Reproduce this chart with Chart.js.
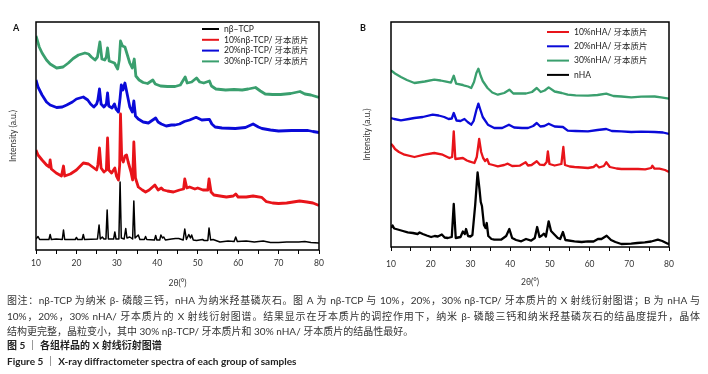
<!DOCTYPE html>
<html>
<head>
<meta charset="utf-8">
<script src="https://cdn.jsdelivr.net/npm/chart.js@4.4.0/dist/chart.umd.min.js"></script>
<style>
  body { margin: 0; width: 708px; height: 374px; background: #fff; position: relative; overflow: hidden; font-family: Lato, "Noto Sans CJK SC", sans-serif; }
  canvas.panel { position: absolute; top: 0; }
  .tag { position: absolute; top: 22px; font: bold 9px Lato, sans-serif; color: #111; }
  .cap { position: absolute; left: 7px; white-space: nowrap; font-size: 10px; line-height: 12px; color: #333; }
  .full { width: 693px; text-align: justify; text-align-last: justify; }
  .bold { font-weight: bold; color: #222; }
</style>
</head>
<body>
<canvas id="chartA" class="panel" style="left:0" width="340" height="295"></canvas>
<canvas id="chartB" class="panel" style="left:354px" width="340" height="295"></canvas>
<div class="tag" style="left:13px">A</div>
<div class="tag" style="left:360px">B</div>

<div class="cap full" style="top:294px">图注：nβ-TCP 为纳米 β- 磷酸三钙，nHA 为纳米羟基磷灰石。图 A 为 nβ-TCP 与 10%，20%，30% nβ-TCP/ 牙本质片的 X 射线衍射图谱；B 为 nHA 与</div>
<div class="cap full" style="top:310px">10%，20%，30% nHA/ 牙本质片的 X 射线衍射图谱。结果显示在牙本质片的调控作用下，纳米 β- 磷酸三钙和纳米羟基磷灰石的结晶度提升，晶体</div>
<div class="cap" style="top:325px">结构更完整，晶粒变小，其中 30% nβ-TCP/ 牙本质片和 30% nHA/ 牙本质片的结晶性最好。</div>
<div class="cap bold" style="top:339px">图 5 ｜ 各组样品的 X 射线衍射图谱</div>
<div class="cap bold" style="top:355px">Figure 5 ｜ X-ray diffractometer spectra of each group of samples</div>

<script>
// 2θ (deg) / intensity (a.u.) pairs
const tcpPure = [[10,11],[10.5,13.5],[10.9,10.5],[12,10.5],[13.2,10.5],[13.5,15.5],[13.8,10.5],[15,11],[16.5,10.5],[16.8,20],[17.1,10.5],[19.7,10.5],[20,12.5],[20.3,10.5],[21.4,10.5],[21.7,15.5],[22,10.5],[25.2,11],[25.6,25],[25.9,11],[26.4,13],[26.8,11],[27.3,11],[27.6,40],[27.9,11],[29.2,11],[29.5,18],[29.8,11],[30.5,11],[30.8,68],[31.1,12],[31.8,11],[32.2,21.5],[32.5,12],[33.2,13],[33.9,11],[34.2,49],[34.5,12],[35.3,15],[35.7,10.5],[36.8,10.5],[37.1,13.5],[37.4,10.5],[39.3,10],[39.6,14.5],[39.9,10],[40.6,10],[40.9,15],[41.3,12],[41.6,13],[42,10],[43.5,11],[44.5,11.5],[45.3,11.5],[46.4,10],[46.8,21],[47.2,10.5],[47.8,15.5],[48.2,12],[48.5,15],[48.9,10],[49.7,9.5],[51.2,10.5],[51.6,9.5],[52.5,9.5],[52.8,22],[53.2,10],[53.8,10.5],[55.5,8],[57.5,9],[59,8.5],[59.4,13],[59.8,8.5],[62,9],[64,8],[66.2,9],[68,7.5],[70,7.5],[72,8],[75,8],[76.5,8.5],[78,7.5],[80,7]];
const tcp10 = [[10,100],[10.5,95],[11.5,90],[12.6,85],[13.3,83],[13.5,90],[13.8,81],[15,77],[16.3,74],[16.8,84],[17.1,74],[18.5,76],[20,80],[21.7,87],[23,86],[24,83],[25,80],[25.3,85],[25.7,102],[26.1,82],[26.8,78],[27.4,80],[27.7,112],[28,80],[28.7,77],[29.5,82],[29.9,74],[30.4,70],[30.7,85],[30.9,136],[31.2,92],[31.6,88],[32,94],[32.4,95],[32.8,88],[33.5,78],[33.9,70],[34.2,108],[34.6,72],[35.3,63],[36.3,60],[37.1,58],[38,60],[39.4,65],[40.2,60],[41,62],[41.5,60],[42.5,59],[44,58],[45.5,60],[46.5,61],[46.8,71],[47.3,62],[48,63],[49.3,61],[50,62],[51.3,60],[52.5,60],[52.8,71],[53.3,58],[54,55],[55.5,54],[57.1,53],[58.8,54],[59.4,56],[60,53],[62,53],[63.7,54],[65.8,52.7],[67,48.3],[68.5,47],[70,46.5],[72,47],[75.2,49],[77,48],[78.5,47],[80,44.5]];
const tcp20 = [[10,170],[10.5,163],[11.5,155],[12.6,148],[13.5,145],[15.1,142.5],[16.5,143],[17.6,145],[19,148],[20,151],[21.7,153],[22.8,150],[23.5,146],[24.3,143],[25,146],[25.3,150],[25.7,161],[26.1,146],[26.8,143],[27.4,146],[27.7,157],[28,144],[28.8,142],[29.4,146],[29.8,141],[30.4,138],[30.8,152],[31.1,165],[31.5,160],[32,167],[32.6,155],[33.2,143],[33.8,138],[34.2,149],[34.6,134],[35.3,131],[36.5,128],[37.8,127],[39.6,132],[40.2,128],[41,126],[42.2,124],[43.5,125],[44.4,125],[45.5,126],[46.7,128.5],[48,130],[49.6,132.7],[51,130],[52.9,130.7],[53.5,126],[54.3,123],[56,122],[59.3,121.5],[61.8,122.5],[63.7,126],[65,123],[65.9,121.5],[68,120],[70,119],[73.2,119.5],[75,119.5],[77.3,119.5],[78.5,118.5],[80,117.5]];
const tcp30 = [[10,214],[10.3,210],[10.8,203],[11.5,197],[12.6,190],[13.5,186],[15.1,182],[16.7,183],[18,187],[19.2,191.5],[20.5,195],[22.1,197],[23,196],[23.7,193],[24.6,190],[25.2,193],[25.8,208],[26.3,191],[27,190],[27.4,193],[27.7,202],[28.1,189],[29.4,187],[30.2,181],[30.6,190],[30.9,209],[31.4,204],[32,203],[32.6,195],[33.2,187],[33.8,182],[34.3,191],[34.7,174],[35.5,170],[36.5,167.5],[37.6,166.5],[38.9,170],[39.5,166],[40.8,164],[42.5,163.5],[44.4,163.5],[45.7,165],[46.9,173],[47.4,167],[48.5,168],[49.7,172],[50.5,168],[51.5,167],[52.9,169],[53.4,164],[54.5,161],[56.9,160],[59,160.5],[61,160],[62.5,161],[64.3,162.5],[65.5,159],[66.7,156],[68.5,155.5],[70.5,155.5],[73,156.5],[75.3,158.5],[76.5,156],[78,155],[80,152.5]];

const haPure = [[10,19],[10.4,21.5],[10.8,18.5],[11.7,17.5],[13,16],[14.2,14.7],[15.5,14],[16.7,13],[17.2,14.5],[18,13],[19,11.5],[20.1,10],[21,11],[21.8,10.5],[22.8,12.5],[23.5,9.5],[24.3,9],[25.3,10],[25.8,43],[26.3,9],[27.5,10],[28.1,15.5],[28.6,13],[28.9,18],[29.4,11],[30,10.5],[30.5,12],[31.2,42],[31.8,74.5],[32.3,57],[32.6,45],[32.9,41],[33.4,22],[33.8,19],[34.1,24],[34.5,11],[35.3,8],[36,7.3],[37.7,7.3],[39,11],[39.8,18],[40.5,9],[41.5,7],[42.8,5.7],[44,8],[45.3,6.3],[46.2,9],[46.8,20],[47.4,10],[48,11.5],[48.5,13.3],[49,10.5],[49.7,25.7],[50.3,16],[51.2,12.3],[52,9],[52.6,8],[53.3,15],[53.9,7],[56.2,5.7],[58,5],[59.6,5.7],[61,5.5],[62.1,8],[63,8],[64.3,11.3],[65.4,7],[66.5,5],[68,3],[70.5,3.3],[72,4],[73.9,4.7],[75.5,5.5],[77.2,7.3],[78.3,6],[79.7,3.3],[80,3]];
const ha10 = [[10,103.3],[10.5,101],[11,98],[12,95],[13.4,92.3],[15.9,90],[18.4,92.3],[20.9,94],[23,92.3],[24.7,89],[25.4,90],[25.8,115.7],[26.2,88],[27.2,88.5],[28.1,89],[29.1,86.5],[29.7,85.7],[31,84],[31.6,90],[32.2,108],[32.7,95],[33.2,89],[33.7,86],[34.2,88],[34.7,83],[35.7,82],[36.9,80.7],[38.5,82],[39.4,83.3],[40.5,81],[42.4,81.3],[43.9,84.7],[44.5,81.5],[45.4,82],[46.7,85.7],[47.5,82.3],[48.6,82],[49.2,85],[49.5,95.7],[49.9,83],[51.2,81.5],[52.9,83],[53.4,100],[53.8,82],[55,80.5],[56.2,80],[58,79.5],[59.6,79],[61,80],[61.7,82.3],[62.4,79.5],[63.6,81],[64.2,84.7],[65.1,80],[66.8,78.5],[68,78],[70,78],[72.2,78],[74,77.7],[75.5,79],[75.8,81.3],[76.3,78.5],[77.6,78.3],[79,77],[80,75]];
const ha20 = [[10,129],[10.8,128],[12.5,126.6],[14.5,128],[15.9,129],[18,130],[20.5,132.3],[22,131.5],[23.4,130],[24.5,128],[25.3,128.5],[25.8,134],[26.5,126.5],[27.5,126],[28.5,128],[29.3,125],[30.2,122.3],[30.8,126],[31.5,137],[32,143.3],[32.6,136],[33.1,130],[34.4,122.3],[36,119],[38,119],[39.7,122.3],[41,119.5],[43,119],[44.5,119],[45.8,121],[46.7,124],[47.6,120.5],[48.6,121],[49.7,123.3],[51.2,120.5],[53.3,120],[54.5,116.3],[56.5,116],[59.6,115.6],[62,117],[64.2,118],[65.6,116],[68,115.6],[70.5,115],[73,115.3],[76.4,115],[78.5,114.5],[80,113]];
const ha30 = [[10,176.7],[11,173.5],[12.5,170],[14,167],[15.9,164],[18.5,165.5],[20.9,167.3],[22.5,166.5],[23.9,165.3],[25.1,164.3],[25.8,171.3],[26.4,163.3],[28.1,162],[28.5,161.3],[29.4,160.5],[30.2,159],[30.9,165],[31.5,174],[32,178.3],[32.6,171],[33.1,166],[34.3,159],[35.5,154.5],[36.9,152.3],[38.5,154],[39.8,157.3],[40.8,153.5],[42.5,153.5],[44,153.5],[45.5,155],[46.7,159],[47.7,155],[48.7,156.5],[49.7,159.6],[51.2,155.5],[53,154],[54.5,152.3],[56.5,151.6],[59.6,151.3],[62,152],[64.2,153.3],[66,151],[68,150.5],[70.5,149.6],[73,150.3],[76.4,150.5],[78,149.6],[80,148.3]];

const labelsA = ['nβ–TCP', '10%nβ-TCP/ 牙本质片', '20%nβ-TCP/ 牙本质片', '30%nβ-TCP/ 牙本质片'];
const labelsB = ['10%nHA/ 牙本质片', '20%nHA/ 牙本质片', '30%nHA/ 牙本质片', 'nHA'];

const BLACK = '#000000', RED = '#e8141a', BLUE = '#0a0ad8', GREEN = '#3a9f6e';
const FONT = 'Lato, "Noto Sans CJK SC", sans-serif';

function toPoints(pairs) {
    return pairs.map(([x, y]) => ({ x: x, y: y }));
}

function line(label, pairs, color, width) {
    return {
        label: label,
        data: toPoints(pairs),
        borderColor: color,
        backgroundColor: color,
        borderWidth: width,
        borderJoinStyle: 'round',
        pointRadius: 0,
        tension: 0,
        fill: false
    };
}

// box around the plot area
const frame = {
    id: 'frame',
    afterDatasetsDraw(chart) {
        const { ctx, chartArea: a } = chart;
        ctx.save();
        ctx.strokeStyle = '#000';
        ctx.lineWidth = 1.5;
        ctx.strokeRect(a.left, a.top, a.right - a.left, a.bottom - a.top);
        ctx.restore();
    }
};

// legend drawn inside the plot, one entry per row
const insideLegend = {
    id: 'insideLegend',
    afterDatasetsDraw(chart, args, opts) {
        const ctx = chart.ctx;
        ctx.save();
        ctx.font = '8.5px ' + FONT;
        ctx.textBaseline = 'middle';
        chart.data.datasets.forEach((ds, row) => {
            const y = opts.y + row * opts.rowH;
            ctx.strokeStyle = ds.borderColor;
            ctx.lineWidth = 2;
            ctx.beginPath();
            ctx.moveTo(opts.x, y);
            ctx.lineTo(opts.x + opts.lineLen, y);
            ctx.stroke();
            ctx.fillStyle = '#222';
            ctx.fillText(ds.label, opts.x + opts.lineLen + 5, y);
        });
        ctx.restore();
    }
};

function makeChart(id, datasets, cfg) {
    const ctx = document.getElementById(id).getContext('2d');
    return new Chart(ctx, {
        type: 'line',
        data: { datasets: datasets },
        plugins: [frame, insideLegend],
        options: {
            responsive: false,
            animation: false,
            layout: { padding: { left: 0, top: 22, right: cfg.padRight, bottom: 0 } },
            plugins: {
                legend: { display: false },
                tooltip: { enabled: false },
                insideLegend: cfg.legend
            },
            scales: {
                x: {
                    type: 'linear',
                    min: 10,
                    max: 80,
                    border: { display: false },
                    grid: { drawOnChartArea: false, drawTicks: true, tickLength: 4, color: '#000' },
                    ticks: {
                        stepSize: 5,
                        autoSkip: false,
                        maxRotation: 0,
                        padding: cfg.tickPad,
                        color: '#333',
                        font: { family: FONT, size: 8.5 },
                        callback: (v) => (v % 10 === 0 ? v : '')
                    },
                    title: { display: true, text: '2θ(°)', color: '#333', font: { family: FONT, size: 8.5 }, padding: { top: 0, bottom: cfg.titlePad } },
                    afterFit: (s) => { s.height = cfg.xHeight; }
                },
                y: {
                    min: 0,
                    max: cfg.yMax,
                    border: { display: false },
                    grid: { display: false },
                    ticks: { display: false },
                    title: { display: true, text: 'Intensity (a.u.)', color: '#333', font: { family: FONT, size: 8.5 }, padding: { top: 8, bottom: 0 } },
                    afterFit: (s) => { s.width = cfg.yWidth; }
                }
            }
        }
    });
}

makeChart('chartA', [
    line(labelsA[0], tcpPure, BLACK, 1.5),
    line(labelsA[1], tcp10, RED, 2.8),
    line(labelsA[2], tcp20, BLUE, 2.8),
    line(labelsA[3], tcp30, GREEN, 2.8)
], { padRight: 21, yWidth: 36, xHeight: 45, yMax: 228, tickPad: 4, titlePad: 7, legend: { x: 202, y: 29, rowH: 10.8, lineLen: 17 } });

makeChart('chartB', [
    line(labelsB[0], ha10, RED, 2.3),
    line(labelsB[1], ha20, BLUE, 2.3),
    line(labelsB[2], ha30, GREEN, 2.3),
    line(labelsB[3], haPure, BLACK, 2.3)
], { padRight: 25, yWidth: 37, xHeight: 48, yMax: 225, tickPad: 8, titlePad: 8, legend: { x: 193, y: 32, rowH: 14.3, lineLen: 22 } });
</script>
</body>
</html>
